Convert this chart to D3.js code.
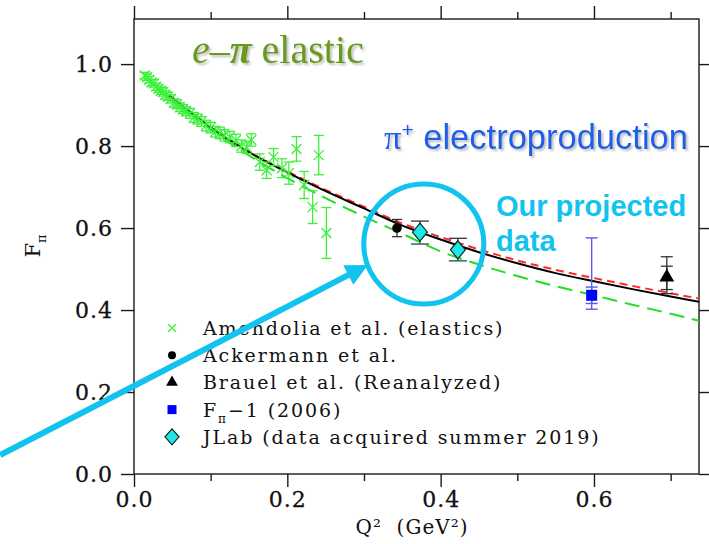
<!DOCTYPE html>
<html>
<head>
<meta charset="utf-8">
<script src="https://cdn.jsdelivr.net/npm/d3@7"></script>
<style>
  body { margin: 0; background: #fff; }
  svg { display: block; }
</style>
</head>
<body>
<svg id="chart" width="709" height="544"></svg>
<script>
// ---- Amendolia et al. (e-pi elastic scattering) ----
const amendoliaQ2 = [0.014, 0.017, 0.020, 0.023, 0.026, 0.029, 0.032, 0.035, 0.038, 0.041,
  0.044, 0.048, 0.052, 0.056, 0.060, 0.064, 0.068, 0.073, 0.078, 0.083,
  0.088, 0.094, 0.100, 0.106, 0.112, 0.118, 0.125, 0.133, 0.140, 0.147,
  0.153, 0.164, 0.173, 0.182, 0.193, 0.202, 0.212, 0.222, 0.233, 0.241, 0.251];
const amendoliaF = [0.972, 0.968, 0.962, 0.955, 0.953, 0.945, 0.940, 0.935, 0.932, 0.925,
  0.921, 0.915, 0.905, 0.902, 0.895, 0.890, 0.885, 0.880, 0.870, 0.866,
  0.860, 0.850, 0.845, 0.835, 0.832, 0.826, 0.822, 0.814, 0.800, 0.797,
  0.815, 0.761, 0.741, 0.773, 0.746, 0.734, 0.793, 0.705, 0.651, 0.778, 0.588];
const amendoliaErr = [0.008, 0.008, 0.008, 0.008, 0.009, 0.009, 0.009, 0.009, 0.010, 0.010,
  0.010, 0.010, 0.010, 0.011, 0.011, 0.011, 0.011, 0.012, 0.012, 0.012,
  0.012, 0.013, 0.013, 0.013, 0.014, 0.014, 0.014, 0.015, 0.015, 0.015,
  0.015, 0.020, 0.020, 0.021, 0.023, 0.027, 0.030, 0.033, 0.040, 0.048, 0.062];

// ---- Ackermann et al. ----
const ackermannQ2 = [0.343];
const ackermannF = [0.600];
const ackermannErr = [0.021];

// ---- Brauel et al. (reanalyzed): statistical and total errors ----
const brauelQ2 = [0.695];
const brauelF = [0.480];
const brauelErrStatUp = [0.027], brauelErrStatDn = [0.030];
const brauelErrTotUp = [0.050], brauelErrTotDn = [0.040];

// ---- F_pi-1 (2006) ----
const fpi1Q2 = [0.597];
const fpi1F = [0.436];
const fpi1ErrStat = [0.020];
const fpi1ErrTotUp = [0.140], fpi1ErrTotDn = [0.034];

// ---- JLab projected points (summer 2019) ----
const jlabQ2 = [0.373, 0.4225];
const jlabF = [0.590, 0.547];
const jlabErrUp = [0.027, 0.028];
const jlabErrDn = [0.029, 0.027];

// ---- model curves ----
const curveQ2 = [0.045, 0.10, 0.15, 0.20, 0.25, 0.30, 0.35, 0.40, 0.45, 0.50, 0.55, 0.60, 0.65, 0.70, 0.737];
const blackF = [0.925, 0.845, 0.785, 0.736, 0.690, 0.648, 0.606, 0.572, 0.541, 0.514, 0.490, 0.470, 0.451, 0.433, 0.420];
const redF   = [0.926, 0.846, 0.786, 0.738, 0.693, 0.652, 0.611, 0.578, 0.548, 0.521, 0.498, 0.478, 0.459, 0.441, 0.428];
const greenF = [0.922, 0.840, 0.777, 0.722, 0.673, 0.628, 0.586, 0.543, 0.511, 0.483, 0.458, 0.436, 0.413, 0.391, 0.374];

// ---- axes ----
const xMajorTicks = [0.0, 0.2, 0.4, 0.6];
const xMinorTicks = [0.1, 0.3, 0.5, 0.7];
const yMajorTicks = [0.0, 0.2, 0.4, 0.6, 0.8, 1.0];

const legendLabels = ["Amendolia et al. (elastics)", "Ackermann et al.", "Brauel et al. (Reanalyzed)",
  "F_pi-1 (2006)", "JLab (data acquired summer 2019)"];

// ---- layout ----
const svg = d3.select("#chart");
const x = d3.scaleLinear().domain([0, 0.737]).range([134, 699]);
const y = d3.scaleLinear().domain([0, 1.11]).range([474, 19]);
const serif = "'DejaVu Serif', serif";
const frameColor = "#1a1a1a";

const defs = svg.append("defs");
const shadow = defs.append("filter").attr("id", "shadow")
  .attr("x", "-10%").attr("y", "-20%").attr("width", "130%").attr("height", "160%");
shadow.append("feDropShadow").attr("dx", 2).attr("dy", 2).attr("stdDeviation", 1)
  .attr("flood-color", "#888").attr("flood-opacity", 0.55);

// frame and ticks
function styleAxis(g) {
  g.select(".domain").remove();
  g.selectAll("line").attr("stroke", frameColor).attr("stroke-width", 1.4);
  g.selectAll("text").attr("font-family", serif).attr("font-size", 22)
    .attr("fill", "#111").attr("letter-spacing", 1).attr("stroke", "#111").attr("stroke-width", 0.3);
}
svg.append("rect").attr("x", x(0)).attr("y", y(1.11))
  .attr("width", x(0.737) - x(0)).attr("height", y(0) - y(1.11))
  .attr("fill", "none").attr("stroke", frameColor).attr("stroke-width", 1.4);

svg.append("g").attr("transform", `translate(0,${y(0)})`)
  .call(d3.axisBottom(x).tickValues(xMajorTicks).tickSize(13).tickPadding(4).tickFormat(d3.format(".1f")))
  .call(styleAxis);
svg.append("g").attr("transform", `translate(0,${y(0)})`)
  .call(d3.axisBottom(x).tickValues(xMinorTicks).tickSize(7).tickFormat(""))
  .call(styleAxis);
svg.append("g").attr("transform", `translate(0,${y(1.11)})`)
  .call(d3.axisTop(x).tickValues(xMajorTicks).tickSize(13).tickFormat(""))
  .call(styleAxis);
svg.append("g").attr("transform", `translate(0,${y(1.11)})`)
  .call(d3.axisTop(x).tickValues(xMinorTicks).tickSize(7).tickFormat(""))
  .call(styleAxis);
svg.append("g").attr("transform", `translate(${x(0)},0)`)
  .call(d3.axisLeft(y).tickValues(yMajorTicks).tickSize(13).tickPadding(8).tickFormat(d3.format(".1f")))
  .call(styleAxis);
svg.append("g").attr("transform", `translate(${x(0.737)},0)`)
  .call(d3.axisRight(y).tickValues(yMajorTicks).tickSize(11).tickFormat(""))
  .call(styleAxis);

// axis titles
svg.append("text").attr("x", 412).attr("y", 534).attr("text-anchor", "middle")
  .attr("font-family", serif).attr("font-size", 20).attr("fill", "#111").attr("letter-spacing", 1)
  .attr("xml:space", "preserve").text("Q²  (GeV²)");

const yt = svg.append("text").attr("transform", "translate(40,246) rotate(-90)")
  .attr("text-anchor", "middle").attr("font-family", serif).attr("font-size", 21).attr("fill", "#111");
yt.append("tspan").text("F");
yt.append("tspan").attr("dy", 6).attr("font-size", 13).text("π");

// model curves
const line = d3.line().x((d, i) => x(curveQ2[i])).y(d => y(d)).curve(d3.curveMonotoneX);
svg.append("path").attr("d", line(greenF)).attr("fill", "none")
  .attr("stroke", "#22dd22").attr("stroke-width", 2).attr("stroke-dasharray", "15,8");
svg.append("path").attr("d", line(redF)).attr("fill", "none")
  .attr("stroke", "#ff2a2a").attr("stroke-width", 2).attr("stroke-dasharray", "8,5");
svg.append("path").attr("d", line(blackF)).attr("fill", "none")
  .attr("stroke", "#000").attr("stroke-width", 2);

// error bar helper
function errBar(g, q, lo, hi, cap, color, width) {
  g.append("line").attr("x1", x(q)).attr("x2", x(q)).attr("y1", y(lo)).attr("y2", y(hi))
    .attr("stroke", color).attr("stroke-width", width);
  [lo, hi].forEach(v => g.append("line").attr("x1", x(q) - cap).attr("x2", x(q) + cap)
    .attr("y1", y(v)).attr("y2", y(v)).attr("stroke", color).attr("stroke-width", width));
}

// Amendolia crosses
const gA = svg.append("g");
const green = "#3cf03c";
amendoliaQ2.forEach((q, i) => {
  errBar(gA, q, amendoliaF[i] - amendoliaErr[i], amendoliaF[i] + amendoliaErr[i], 5, green, 1.3);
  gA.append("path").attr("transform", `translate(${x(q)},${y(amendoliaF[i])})`)
    .attr("d", "M-5,-5L5,5M-5,5L5,-5").attr("stroke", green).attr("stroke-width", 1.3);
});

// Ackermann
const gK = svg.append("g");
ackermannQ2.forEach((q, i) => {
  errBar(gK, q, ackermannF[i] - ackermannErr[i], ackermannF[i] + ackermannErr[i], 5, "#333", 1.3);
  gK.append("circle").attr("cx", x(q)).attr("cy", y(ackermannF[i])).attr("r", 4.8).attr("fill", "#000");
});

// Brauel
const gB = svg.append("g");
brauelQ2.forEach((q, i) => {
  errBar(gB, q, brauelF[i] - brauelErrTotDn[i], brauelF[i] + brauelErrTotUp[i], 6, "#333", 1.3);
  errBar(gB, q, brauelF[i] - brauelErrStatDn[i], brauelF[i] + brauelErrStatUp[i], 6, "#333", 1.3);
  gB.append("path").attr("transform", `translate(${x(q)},${y(brauelF[i])})`)
    .attr("d", d3.symbol(d3.symbolTriangle, 95)()).attr("fill", "#000");
});

// F_pi-1
const gF = svg.append("g");
fpi1Q2.forEach((q, i) => {
  errBar(gF, q, fpi1F[i] - fpi1ErrTotDn[i], fpi1F[i] + fpi1ErrTotUp[i], 6, "#5a5aee", 1.4);
  errBar(gF, q, fpi1F[i] - fpi1ErrStat[i], fpi1F[i] + fpi1ErrStat[i], 6, "#5a5aee", 1.4);
  gF.append("rect").attr("x", x(q) - 5.5).attr("y", y(fpi1F[i]) - 5.5)
    .attr("width", 11).attr("height", 11).attr("fill", "#0000ff");
});

// JLab diamonds
const gJ = svg.append("g");
const diamond = "M0,-9L7.5,0L0,9L-7.5,0Z";
jlabQ2.forEach((q, i) => {
  const lo = jlabF[i] - jlabErrDn[i], hi = jlabF[i] + jlabErrUp[i];
  gJ.append("line").attr("x1", x(q)).attr("x2", x(q)).attr("y1", y(lo)).attr("y2", y(hi))
    .attr("stroke", "#333").attr("stroke-width", 1.3);
  gJ.append("line").attr("x1", x(q) - 9).attr("x2", x(q) + 9).attr("y1", y(hi)).attr("y2", y(hi))
    .attr("stroke", "#333").attr("stroke-width", 1.3);
  gJ.append("line").attr("x1", x(q) - 9).attr("x2", x(q) + 9).attr("y1", y(lo)).attr("y2", y(lo))
    .attr("stroke", "#3f6f6f").attr("stroke-width", 1.6);
  gJ.append("path").attr("transform", `translate(${x(q)},${y(jlabF[i])})`)
    .attr("d", diamond).attr("fill", "#22e6e6").attr("stroke", "#0a2a2a").attr("stroke-width", 1.2);
});

// legend
const legX = 172, legTextX = 203, legY0 = 328, legDy = 27.2;
const gL = svg.append("g");
legendLabels.forEach((lab, i) => {
  const yy = legY0 + i * legDy;
  if (i === 0) gL.append("path").attr("transform", `translate(${legX},${yy})`)
    .attr("d", "M-4,-4L4,4M-4,4L4,-4").attr("stroke", green).attr("stroke-width", 1.2);
  if (i === 1) gL.append("circle").attr("cx", legX).attr("cy", yy).attr("r", 4).attr("fill", "#000");
  if (i === 2) gL.append("path").attr("transform", `translate(${legX},${yy})`)
    .attr("d", d3.symbol(d3.symbolTriangle, 60)()).attr("fill", "#000");
  if (i === 3) gL.append("rect").attr("x", legX - 4.5).attr("y", yy - 4.5)
    .attr("width", 9).attr("height", 9).attr("fill", "#0000ff");
  if (i === 4) gL.append("path").attr("transform", `translate(${legX},${yy})`)
    .attr("d", "M0,-8L7,0L0,8L-7,0Z").attr("fill", "#22e6e6").attr("stroke", "#0a2a2a").attr("stroke-width", 1.2);
  const t = gL.append("text").attr("x", legTextX).attr("y", yy + 7)
    .attr("font-family", serif).attr("font-size", 19).attr("letter-spacing", 1.9).attr("fill", "#111");
  if (i === 3) {
    t.append("tspan").text("F");
    t.append("tspan").attr("dy", 6).attr("font-size", 12).text("π");
    t.append("tspan").attr("dy", -6).text("−1 (2006)");
  } else {
    t.text(lab);
  }
});

// annotations
const olive = "#6a9a1c";
const ep = svg.append("text").attr("x", 192).attr("y", 63)
  .attr("font-family", "'Liberation Serif', serif").attr("font-size", 40)
  .attr("fill", olive).attr("filter", "url(#shadow)");
ep.append("tspan").attr("font-style", "italic").text("e");
ep.append("tspan").text("–");
ep.append("tspan").attr("font-style", "italic").attr("font-weight", "bold").text("π");
ep.append("tspan").text(" elastic");

const pp = svg.append("text").attr("x", 384).attr("y", 149)
  .attr("font-family", "'Liberation Sans', sans-serif").attr("font-size", 34.5)
  .attr("fill", "#1a5ee8").attr("filter", "url(#shadow)");
pp.append("tspan").attr("font-family", "'Liberation Serif', serif").text("π");
pp.append("tspan").attr("dy", -12).attr("font-size", 21).text("+");
pp.append("tspan").attr("dy", 12).text(" electroproduction");

const cyan = "#12c3f0";
svg.append("text").attr("x", 496).attr("y", 216)
  .attr("font-family", "'Liberation Sans', sans-serif").attr("font-weight", "bold")
  .attr("font-size", 29).attr("fill", cyan).text("Our projected");
svg.append("text").attr("x", 496).attr("y", 251)
  .attr("font-family", "'Liberation Sans', sans-serif").attr("font-weight", "bold")
  .attr("font-size", 29).attr("fill", cyan).text("data");

// highlight ring around the projected points
const ringQ2 = 0.378, ringF = 0.561, ringR = 60;
svg.append("ellipse").attr("cx", x(ringQ2)).attr("cy", y(ringF)).attr("rx", ringR).attr("ry", ringR)
  .attr("fill", "none").attr("stroke", cyan).attr("stroke-width", 5);

// pointer arrow
const arrowFrom = [-0.1746, 0.046], arrowTo = [0.305, 0.510];
const ax0 = x(arrowFrom[0]), ay0 = y(arrowFrom[1]), ax1 = x(arrowTo[0]), ay1 = y(arrowTo[1]);
const len = Math.hypot(ax1 - ax0, ay1 - ay0);
const ux = (ax1 - ax0) / len, uy = (ay1 - ay0) / len;
const headL = 22, headW = 11;
const bx = ax1 - ux * headL, by = ay1 - uy * headL;
svg.append("line").attr("x1", ax0).attr("y1", ay0).attr("x2", bx + ux * 2).attr("y2", by + uy * 2)
  .attr("stroke", cyan).attr("stroke-width", 6);
svg.append("path").attr("d",
  `M${ax1},${ay1}L${bx - uy * headW},${by + ux * headW}L${bx + uy * headW},${by - ux * headW}Z`)
  .attr("fill", cyan);
</script>
</body>
</html>
